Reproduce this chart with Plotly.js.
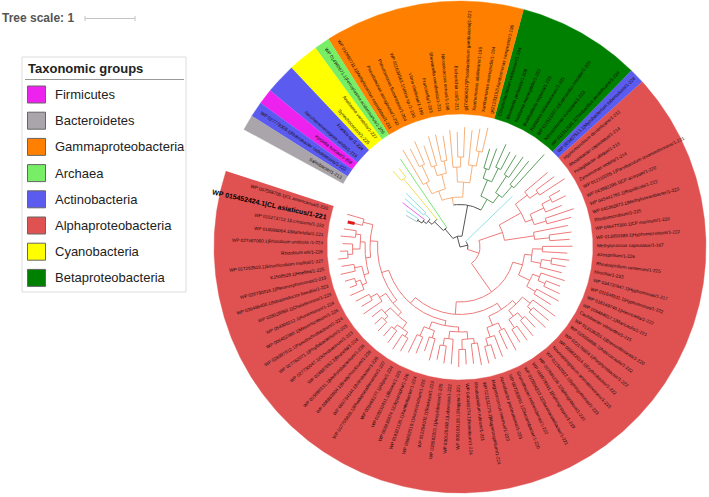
<!DOCTYPE html>
<html><head><meta charset="utf-8">
<script src="https://cdn.plot.ly/plotly-3.0.1.min.js"></script>
<style>html,body{margin:0;padding:0;background:#fff;}#chart{width:709px;height:497px;}</style>
</head><body><div id="chart"></div>
<script>
// ================= DATA =================
const groupNames = ['Firmicutes','Bacteroidetes','Gammaproteobacteria','Archaea','Actinobacteria','Alphaproteobacteria','Cyanobacteria','Betaproteobacteria'];
const groupFill  = ['#ee22ee','#a9a5aa','#ff8000','#77ee66','#5b5bf0','#e05252','#ffff00','#008000'];
const groupTree  = ['#e96ae9','#a8c4d6','#f6b27c','#78e878','#8fe3e3','#ef7b7b','#eee25a','#5e9e5e'];

// colour ranges in leaf order (counter-clockwise from the gap)
const blockGroup = ['Alphaproteobacteria','Actinobacteria','Betaproteobacteria','Gammaproteobacteria','Archaea','Cyanobacteria','Actinobacteria','Firmicutes','Actinobacteria','Bacteroidetes'];
const blockSize  = [66,1,8,13,1,2,2,1,1,1];

const leafLabels = [
 'WP 007558705.1|CL americanus/1-220','WP 015452424.1|CL asiaticus/1-221','WP 015273712.1|Lcrescens/1-222','WP 018096064.1|Martelella/1-221',
 'WP 027467060.1|Rhizobium undicola /1-224','Rhizobium etli/1-226','WP 017263519.1|Sinorhizobium meliloti/1-227','KJ508528.1|Hoeflea/1-225',
 'WP 026790816.1|Pleomorphomonas/1-219','WP 036486400.1|Nitratireductor basaltis/1-223','WP 028028893.1|Chelativorans/1-223','WP 054300212.1|Aureimonas/1-224',
 'WP 006452380.1|Mesorhizobium/1-226','WP 028997612.1|Pseudochrobactrum/1-224','WP 027762071.1|Phyllobacterium/1-225','WP 027730047.1|Ochrobactrum/1-223',
 'WP 024897652.1|Brucella/1-224','WP 015898331.1|Methylobacterium/1-226','WP 008963804.1|Bradyrhizobium/1-228','WP 009734144.1|Nitrobacter/1-226',
 'WP 007795826.1|Rhodopseudomonas/1-227','WP 009465177.1|Afipia/1-224','WP 028032431.1|Bosea/1-225','WP 008835874.1|Oligotropha/1-226',
 'WP 018321135.1|Xanthobacter/1-224','WP 008602519.1|Azorhizobium/1-225','WP 012254102.1|Starkeya/1-223','WP 035592201.1|Ancylobacter/1-225',
 'WP 030125438.1|Labrenzia/1-222','WP 008190128.1|Stappia/1-221','WP 040440274.1|Roseibium/1-224','Rhodospirillum rubrum/1-221',
 'WP 021131279.1|Magnetospirillum/1-224','Magnetococcus marinus/1-223','Acetobacter pasteurianus/1-225','WP 007283991.1|Gluconobacter/1-220',
 'Granulibacter bethesdensis/1-222','WP 010504210.1|Gluconacetobacter/1-221','WP 018979361.1|Sphingopyxis/1-219','WP 007684236.1|Sphingobium/1-220',
 'WP 011542022.1|Sphingomonas/1-223','Novosphingobium aromaticivorans/1-215','WP 009822014.1|Erythrobacter/1-222','WP 022176604.1|Porphyrobacter/1-222',
 'WP 025558886.1|Asticcacaulis/1-222','WP 013136201.1|Brevundimonas/1-220','Caulobacter vibrioides/1-215','WP 008484917.1|Maricaulis/1-221',
 'WP 018149740.1|Henriciella/1-222','WP 011646511.1|Hyphomonas/1-222','WP 034737647.1|Hyphomonas/1-217','Hirschia/1-223',
 'Rhodospirillum centenum/1-225','Azospirillum/1-226','Methylococcus capsulatus/1-167','WP 013950389.1|Hyphomicrobium/1-222',
 'WP 046477300.1|CP marinum/1-220','Rhodomicrobium/1-225','WP 045362873.1|Methyloceanibacter/1-223','WP 045441765.1|Rapidicola/1-222',
 'WP 043992296.1|CP acorpaki/1-220','WP 012110205.1|Parvibaculum lavamentivorans/1-221','Zymomonas mobilis/1-214','Pelagibacter ubique/1-213',
 'Rhodobacter capsulatus/1-214','Hyphomicrobium denitrificans/1-212',
 'WP 003407513.1|Mycobacterium tuberculosis/1-224',
 'WP 011312191.1|Thiobacillus denitrificans/1-220','Nitrosomonas europaea/1-223','WP 011519227.1|Cupriavidus necator/1-229','Ralstonia solanacearum/1-221',
 'Burkholderia cepacia/1-223','Neisseria meningitidis/1-222','Bordetella pertussis/1-208','Chromobacterium violaceum/1-194',
 'gi|21233152|Xanthomonas campestris/1-196','Xanthomonas axonopodis/1-194','Xanthomonas albilineans/1-195','gi|745606247|Photobacterium gaetbulicola|1-221',
 'Escherichia coli/1-211','Nitrosococcus oceani/1-198','Shewanella oneidensis/1-201','Francisella/1-203','Vibrio cholerae/1-199',
 'WP 011639563.1|Vibrio sp./1-190','Pseudomonas fluorescens/1-204','Pseudomonas aeruginosa/1-202','WP 010960711.1|Methylococcus capsulatus/1-211',
 'WP 014960671.1|Ferroplasma acidarmanus/1-206',
 'Anabaena variabilis/1-227','Synechococcus/1-225',
 'Frankia sp./1-224','Saccharomonospora viridis/1-219',
 'Kyrpidia tusciae/1-208',
 'WP 027779305.1|Rubrobacter radiotolerans/1-222',
 'Salinibacter/1-213'
];
const highlightLeaf = 1;   // CL asiaticus (bold)

// tree (Newick, leaf names = leaf index, branch lengths in tree-scale units)
const S6 = '(((2:0.25,3:0.3):0.1,(4:0.2,(5:0.15,6:0.2):0.1):0.15):0.1,((7:0.25,8:0.3):0.15,((9:0.2,10:0.15):0.1,11:0.3):0.1):0.1)';
const S5 = '(((12:0.3,13:0.25):0.15,14:0.45):0.15,((15:0.25,(16:0.2,17:0.25):0.1):0.15,((18:0.25,19:0.3):0.1,(20:0.35,21:0.3):0.1):0.15):0.1)';
const S4 = '(((22:0.4,23:0.35):0.2,(24:0.3,25:0.45):0.15):0.15,(((26:0.3,27:0.35):0.15,28:0.5):0.15,((29:0.35,30:0.3):0.2,(31:0.4,32:0.45):0.1):0.15):0.1)';
const S3 = '((((33:0.35,34:0.3):0.15,35:0.45):0.2,(36:0.4,37:0.5):0.15):0.2,(((38:0.3,39:0.35):0.2,(40:0.4,41:0.3):0.15):0.15,((42:0.45,43:0.4):0.1,44:0.55):0.2):0.1)';
const S2 = '(((45:0.4,46:0.5):0.2,((47:0.35,48:0.3):0.15,49:0.5):0.15):0.25,((50:0.45,(51:0.3,52:0.35):0.2):0.2,(53:0.5,54:0.6):0.2):0.15)';
const S1 = '(((55:0.4,56:0.45):0.3,57:0.7):0.6,(((58:0.5,59:0.6):0.25,(60:0.35,(61:0.3,62:0.25):0.2):0.3):0.15,((63:0.6,64:0.45):0.2,65:0.6):0.3):0.5)';
const GREEN = '(((67:0.9,68:0.6):0.3,(69:0.5,70:0.45):0.4):0.2,((71:0.4,72:0.5):0.3,(73:0.45,74:0.4):0.2):0.35)';
const ORANGE = '((((75:0.5,76:0.45):0.3,77:0.7):0.35,((78:0.6,79:0.5):0.2,80:0.75):0.3):0.3,(((81:0.5,82:0.55):0.25,(83:0.6,84:0.45):0.2):0.3,((85:0.5,86:0.4):0.35,87:0.8):0.25):0.2)';
const YEL = '(89:0.22,90:0.25)';
const SC = '((91:0.55,92:0.5):0.15,(93:0.55,(94:0.3,95:0.25):0.1):0.08)';
const R6 = '(0:0.35,1:0.3)';
const R5 = '(' + R6 + ':0.2,' + S6 + ':0.1)';
const R4 = '(' + R5 + ':0.15,' + S5 + ':0.1)';
const R3 = '(' + R4 + ':0.15,' + S4 + ':0.1)';
const R2 = '(' + R3 + ':0.15,' + S3 + ':0.15)';
const R1 = '(' + R2 + ':0.25,' + S2 + ':0.2)';
const RED = '(' + R1 + ':0.7,' + S1 + ':0.5)';
const NA = '(' + RED + ':0.24,66:1.3)';
const NGO = '(' + GREEN + ':0.25,' + ORANGE + ':0.15)';
const SMALL = '(88:1.65,(' + YEL + ':1.05,' + SC + ':0.1):0.25)';
const NB = '(' + NGO + ':0.63,' + SMALL + ':0.25)';
const treeNewick = '(' + NA + ':0.16,' + NB + ':0.22);';

// ================= GEOMETRY =================
const W = 709, H = 497, CX = 460, CY = 247;
const START = 162, STEP = 3.64, R_IN = 133, R_OUT = 246, LABEL_R = 136, UNIT = 50;
const rad = a => a * Math.PI / 180;
const pol = (r, a) => [r * Math.cos(rad(a)), r * Math.sin(rad(a))];
const ang = i => START + STEP * (i + 0.5);

const leafGroup = [];
blockGroup.forEach((g, k) => { for (let j = 0; j < blockSize[k]; j++) leafGroup.push(g); });

const traces = [];
// colour ranges
let k0 = 0;
blockGroup.forEach((g, k) => {
  const a0 = START + STEP * k0, a1 = START + STEP * (k0 + blockSize[k]);
  const xs = [], ys = [];
  const n = Math.max(2, Math.ceil((a1 - a0) / 0.5));
  for (let j = 0; j <= n; j++) { const p = pol(R_OUT, a0 + (a1 - a0) * j / n); xs.push(p[0]); ys.push(p[1]); }
  for (let j = n; j >= 0; j--) { const p = pol(R_IN, a0 + (a1 - a0) * j / n); xs.push(p[0]); ys.push(p[1]); }
  const col = groupFill[groupNames.indexOf(g)];
  traces.push({type:'scatter', mode:'lines', x:xs, y:ys, fill:'toself', fillcolor:col,
    line:{color:col, width:0.4}, hoverinfo:'skip'});
  k0 += blockSize[k];
});

// tree
function parseNewick(s) {
  let i = 0;
  function node() {
    const n = {children: [], len: 0, name: ''};
    if (s[i] === '(') {
      i++; n.children.push(node());
      while (s[i] === ',') { i++; n.children.push(node()); }
      i++;
    }
    let name = ''; while (i < s.length && !':,);'.includes(s[i])) name += s[i++];
    n.name = name;
    if (s[i] === ':') { i++; let num = ''; while (i < s.length && !',);'.includes(s[i])) num += s[i++]; n.len = parseFloat(num); }
    return n;
  }
  return node();
}
const root = parseNewick(treeNewick);
function layoutTree(n, r0) {
  n.r = r0 + n.len * UNIT;
  if (!n.children.length) { n.leaf = +n.name; n.a = ang(n.leaf); n.leaves = [n.leaf]; }
  else {
    n.children.forEach(c => layoutTree(c, n.r));
    n.a = (n.children[0].a + n.children[n.children.length - 1].a) / 2;
    n.leaves = [].concat(...n.children.map(c => c.leaves));
  }
  const gs = new Set(n.leaves.map(l => leafGroup[l]));
  n.g = gs.size === 1 ? [...gs][0] : null;
}
layoutTree(root, 0);
const lineSets = {};
function addSeg(col, pts) {
  if (!lineSets[col]) lineSets[col] = {x: [], y: []};
  pts.forEach(p => { lineSets[col].x.push(p[0]); lineSets[col].y.push(p[1]); });
  lineSets[col].x.push(null); lineSets[col].y.push(null);
}
const colOf = n => n.g ? groupTree[groupNames.indexOf(n.g)] : '#555555';
const leafR = {};
function drawTree(n, parent) {
  const col = colOf(n);
  if (parent) addSeg(col, [pol(parent.r, n.a), pol(n.r, n.a)]);
  if (n.children.length) {
    if (n.r > 0) {
      const a0 = n.children[0].a, a1 = n.children[n.children.length - 1].a;
      const m = Math.max(2, Math.ceil(Math.abs(a1 - a0) / 0.5));
      const pts = []; for (let j = 0; j <= m; j++) pts.push(pol(n.r, a0 + (a1 - a0) * j / m));
      addSeg(col, pts);
    }
    n.children.forEach(c => drawTree(c, n));
  } else leafR[n.leaf] = n.r;
}
drawTree(root, null);
Object.keys(lineSets).forEach(col => {
  traces.push({type:'scatter', mode:'lines', x:lineSets[col].x, y:lineSets[col].y,
    line:{color:col, width:1}, connectgaps:false, hoverinfo:'skip'});
});
// highlighted branch tip
{
  const a = ang(highlightLeaf), r = leafR[highlightLeaf];
  const p0 = pol(r - 7, a), p1 = pol(r, a);
  traces.push({type:'scatter', mode:'lines', x:[p0[0], p1[0]], y:[p0[1], p1[1]], line:{color:'#e01b1b', width:3}, hoverinfo:'skip'});
}

// labels
const FONT = 'Liberation Sans, Arial, sans-serif';
const cv = document.createElement('canvas').getContext('2d');
function textW(t, size, bold) { cv.font = (bold ? 'bold ' : '') + size + 'px "Liberation Sans", Arial, sans-serif'; return cv.measureText(t).width; }
const annotations = [];
leafLabels.forEach((t, i) => {
  let a = ((ang(i) % 360) + 360) % 360;
  const bold = i === highlightLeaf;
  const size = bold ? 7 : 4.6;
  const w = textW(t, size, bold);
  const flip = a > 90 && a < 270;
  let ta = flip ? 180 - a : -a;
  while (ta > 180) ta -= 360; while (ta <= -180) ta += 360;
  const p = pol(LABEL_R + w / 2 + 1, a);
  annotations.push({x:p[0], y:p[1], xref:'x', yref:'y', text: bold ? '<b>' + t + '</b>' : t, showarrow:false,
    textangle:ta, xanchor:'center', yanchor:'middle', borderpad:0,
    font:{family:FONT, size:size, color: bold ? '#000' : '#140808'}});
});

// legend + tree scale (paper pixel helpers)
const PX = x => x / W, PY = y => 1 - y / H;
const shapes = [];
shapes.push({type:'rect', xref:'paper', yref:'paper', x0:PX(22), x1:PX(186), y0:PY(57), y1:PY(292), line:{color:'#dddddd', width:1}, fillcolor:'rgba(255,255,255,0)'});
annotations.push({xref:'paper', yref:'paper', x:PX(26), y:PY(68), text:'<b>Taxonomic groups</b>', showarrow:false, xanchor:'left', yanchor:'middle',
  font:{family:FONT, size:13, color:'#222'}});
shapes.push({type:'line', xref:'paper', yref:'paper', x0:PX(25), x1:PX(184), y0:PY(79.5), y1:PY(79.5), line:{color:'#999', width:1}});
groupNames.forEach((g, k) => {
  const cy = 94.5 + 26.2 * k;
  shapes.push({type:'rect', xref:'paper', yref:'paper', x0:PX(27.5), x1:PX(45.5), y0:PY(cy + 8.5), y1:PY(cy - 8.5),
    fillcolor:groupFill[k], line:{color:'#666', width:1}});
  annotations.push({xref:'paper', yref:'paper', x:PX(53), y:PY(cy), text:g, showarrow:false, xanchor:'left', yanchor:'middle',
    font:{family:FONT, size:13, color:'#222'}});
});
annotations.push({xref:'paper', yref:'paper', x:PX(0), y:PY(18.5), text:'<b>Tree scale: 1</b>', showarrow:false, xanchor:'left', yanchor:'middle',
  font:{family:FONT, size:12, color:'#555'}});
const sb0 = 85, sb1 = 85 + UNIT;
shapes.push({type:'line', xref:'paper', yref:'paper', x0:PX(sb0), x1:PX(sb1), y0:PY(18.5), y1:PY(18.5), line:{color:'#c4c4c4', width:1}});
shapes.push({type:'line', xref:'paper', yref:'paper', x0:PX(sb0), x1:PX(sb0), y0:PY(16), y1:PY(21), line:{color:'#c4c4c4', width:1}});
shapes.push({type:'line', xref:'paper', yref:'paper', x0:PX(sb1), x1:PX(sb1), y0:PY(16), y1:PY(21), line:{color:'#c4c4c4', width:1}});

const layout = {
  width:W, height:H, margin:{l:0, r:0, t:0, b:0}, paper_bgcolor:'#fff', plot_bgcolor:'#fff', showlegend:false,
  xaxis:{range:[-CX, W - CX], visible:false, fixedrange:true},
  yaxis:{range:[CY - H, CY], visible:false, fixedrange:true},
  shapes:shapes, annotations:annotations
};
Plotly.newPlot('chart', traces, layout, {staticPlot:true, displayModeBar:false});
</script></body></html>
